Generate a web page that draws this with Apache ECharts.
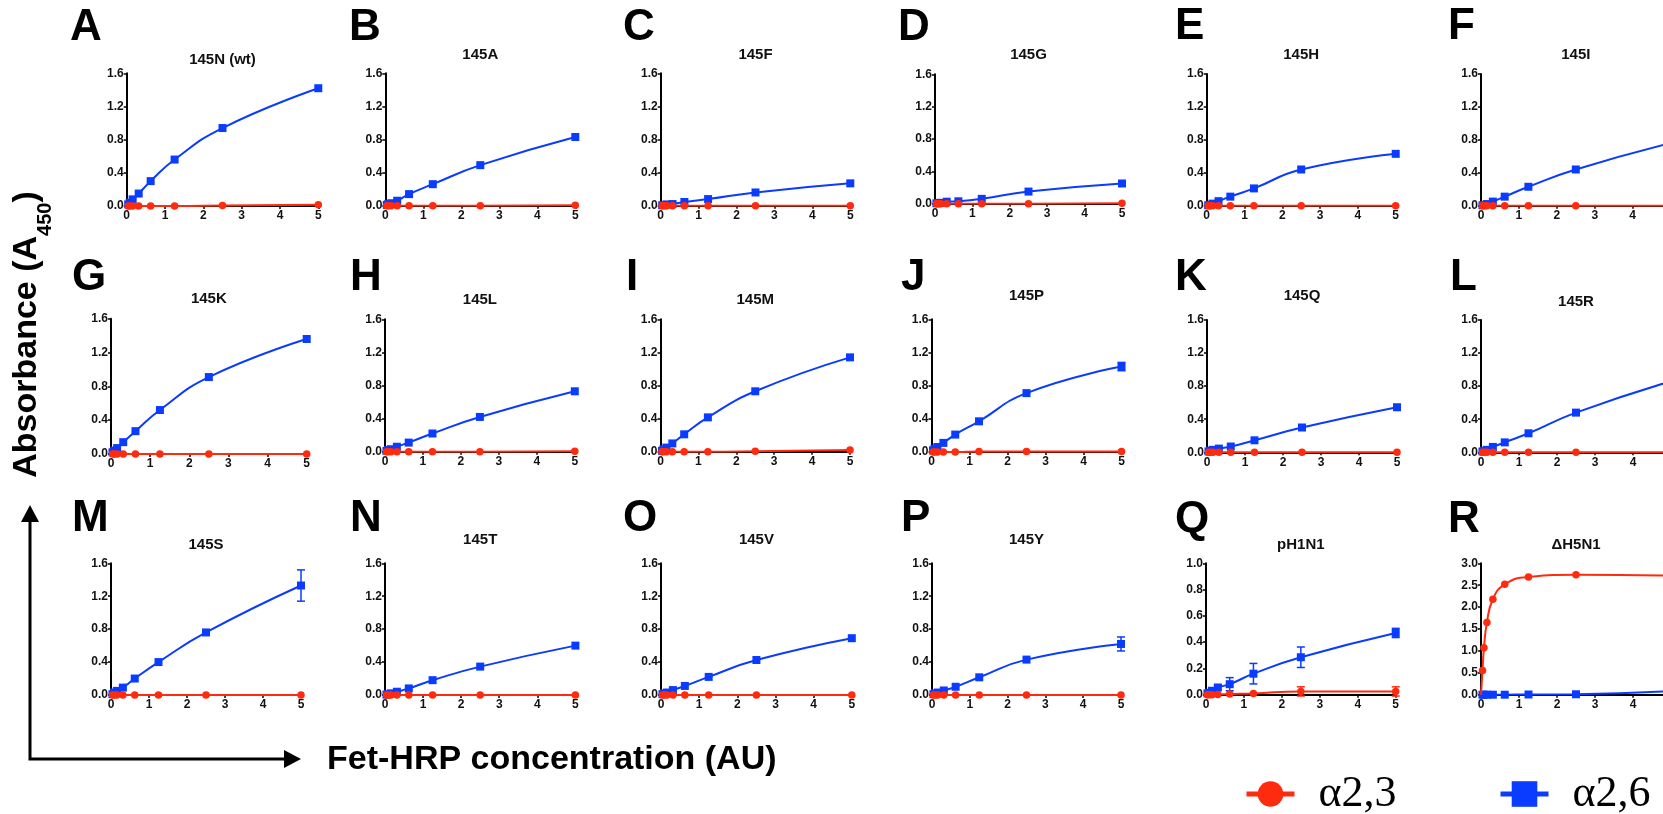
<!DOCTYPE html>
<html><head><meta charset="utf-8">
<script src="https://cdn.jsdelivr.net/npm/echarts@6/dist/echarts.min.js"></script>
<style>html,body{margin:0;padding:0;background:#fff;overflow:hidden}#c{width:1663px;height:814px}</style>
</head><body><div id="c"></div>
<script>
// ---- data ----
const conc = [0.039, 0.078, 0.156, 0.3125, 0.625, 1.25, 2.5, 5];
const panelLetters = ['A','B','C','D','E','F','G','H','I','J','K','L','M','N','O','P','Q','R'];
const panelTitles = ['145N (wt)','145A','145F','145G','145H','145I','145K','145L','145M','145P','145Q','145R','145S','145T','145V','145Y','pH1N1','\u0394H5N1'];
const yMaxes = [1.6,1.6,1.6,1.6,1.6,1.6,1.6,1.6,1.6,1.6,1.6,1.6,1.6,1.6,1.6,1.6,1.0,3.0];
const ySteps = [0.4,0.4,0.4,0.4,0.4,0.4,0.4,0.4,0.4,0.4,0.4,0.4,0.4,0.4,0.4,0.4,0.2,0.5];
const xTicks = [0, 1, 2, 3, 4, 5];

// alpha2,6 (blue)
const a26_145N = [0.02, 0.04, 0.08, 0.15, 0.30, 0.56, 0.94, 1.42];
const a26_145A = [0.01, 0.02, 0.03, 0.06, 0.14, 0.26, 0.49, 0.83];
const a26_145F = [0.005, 0.01, 0.015, 0.02, 0.045, 0.08, 0.16, 0.27];
const a26_145G = [0.005, 0.01, 0.01, 0.025, 0.03, 0.06, 0.15, 0.25];
const a26_145H = [0.005, 0.01, 0.025, 0.055, 0.11, 0.21, 0.44, 0.63];
const a26_145I = [0.005, 0.01, 0.02, 0.05, 0.11, 0.23, 0.44, 0.76];
const a26_145K = [0.02, 0.04, 0.07, 0.14, 0.27, 0.52, 0.91, 1.36];
const a26_145L = [0.01, 0.02, 0.03, 0.06, 0.11, 0.22, 0.42, 0.73];
const a26_145M = [0.01, 0.03, 0.05, 0.10, 0.21, 0.415, 0.73, 1.14];
const a26_145P = [0.02, 0.04, 0.06, 0.11, 0.21, 0.37, 0.71, 1.03];
const a26_145Q = [0.01, 0.02, 0.03, 0.045, 0.07, 0.145, 0.30, 0.545];
const a26_145R = [0.01, 0.02, 0.03, 0.065, 0.12, 0.23, 0.48, 0.86];
const a26_145S = [0.01, 0.03, 0.05, 0.09, 0.20, 0.40, 0.76, 1.33];
const a26_145T = [0.005, 0.01, 0.02, 0.04, 0.08, 0.18, 0.345, 0.60];
const a26_145V = [0.01, 0.02, 0.03, 0.06, 0.11, 0.22, 0.425, 0.69];
const a26_145Y = [0.01, 0.02, 0.03, 0.055, 0.10, 0.215, 0.43, 0.62];
const a26_pH1N1 = [0.01, 0.015, 0.03, 0.055, 0.08, 0.16, 0.285, 0.47];
const a26_H5N1 = [0, 0, 0, 0, 0, 0.005, 0.01, 0.08];

// alpha2,3 (red)
const a23_145N = [0, 0, 0, 0, 0, 0, 0.005, 0.015];
const a23_145A = [0, 0, 0, 0, 0, 0, 0, 0.005];
const a23_145F = [0, 0, 0, 0, 0, 0, 0, 0];
const a23_145G = [0, 0, 0, 0, 0, 0, 0, 0.005];
const a23_145H = [0, 0, 0, 0, 0, 0, 0, 0];
const a23_145I = [0, 0, 0, 0, 0, 0, 0, 0];
const a23_145K = [0, 0, 0, 0, 0, 0, 0, 0];
const a23_145L = [0, 0, 0, 0, 0, 0, 0, 0.005];
const a23_145M = [0, 0, 0, 0, 0, 0, 0.005, 0.02];
const a23_145P = [0, 0, 0, 0, 0, 0.005, 0.005, 0.005];
const a23_145Q = [0, 0, 0, 0, 0, 0, 0, 0];
const a23_145R = [0, 0, 0, 0, 0, 0, 0, 0];
const a23_145S = [0, 0, 0, 0, 0, 0, 0, 0];
const a23_145T = [0, 0, 0, 0, 0, 0, 0, 0];
const a23_145V = [0, 0, 0, 0, 0, 0, 0, 0];
const a23_145Y = [0, 0, 0, 0, 0, 0, 0, 0];
const a23_pH1N1 = [0, 0, 0, 0.002, 0.005, 0.01, 0.025, 0.025];
const a23_H5N1 = [0.55, 1.07, 1.65, 2.18, 2.52, 2.69, 2.74, 2.72];

// error bars (+/-)
const err26_145P = [0, 0, 0, 0, 0, 0, 0, 0.05];
const err26_145S = [0, 0, 0, 0, 0, 0, 0, 0.19];
const err26_145Y = [0, 0, 0, 0, 0, 0, 0, 0.085];
const err26_pH1N1 = [0, 0.005, 0.01, 0.02, 0.05, 0.078, 0.078, 0.035];
const err23_pH1N1 = [0, 0, 0, 0, 0, 0, 0.035, 0.035];

const blueSets = [a26_145N,a26_145A,a26_145F,a26_145G,a26_145H,a26_145I,a26_145K,a26_145L,a26_145M,a26_145P,a26_145Q,a26_145R,a26_145S,a26_145T,a26_145V,a26_145Y,a26_pH1N1,a26_H5N1];
const redSets = [a23_145N,a23_145A,a23_145F,a23_145G,a23_145H,a23_145I,a23_145K,a23_145L,a23_145M,a23_145P,a23_145Q,a23_145R,a23_145S,a23_145T,a23_145V,a23_145Y,a23_pH1N1,a23_H5N1];
const blueErr = {9: err26_145P, 12: err26_145S, 15: err26_145Y, 16: err26_pH1N1};
const redErr = {16: err23_pH1N1};

// ---- layout (pixels) ----
const gridBoxes = [
  [126.7,73.3,191.6,132.7],[385.3,73.3,190,132.4],[660.7,73.3,189.6,132.4],[935,74.3,187,129.4],[1206.7,74,189,131.7],[1481,74,189.6,131.7],
  [111,318.7,195.7,135.3],[385,319.3,189.8,132.4],[660.5,319.3,189.5,132.4],[931.5,319.3,190,132.7],[1207,320,190,132.3],[1481,320,190,132.3],
  [111,563.3,190,131.7],[385,563.3,190.4,131.7],[661,563.3,190.8,131.7],[932,563.3,189,131.7],[1206,563.3,189.7,131.4],[1481,563.3,190,131.4]
];
const letterPos = [
  [70,12],[349,12],[623,12],[898,12],[1175,11],[1448,11],
  [72,262],[350,262],[626,262],[901,262],[1175,262],[1450,262],
  [72,503],[350,503],[623,503],[901,503],[1175,504],[1448,504]
];
const titleY = [60,55,55,55,55,55, 299,300,300,296,296,302, 545,540,540,540,545,545];

const RED = '#ff2b0f', BLUE = '#0a3cff';
const FONT = '"Liberation Sans", Arial, sans-serif';

const grids = [], xAxes = [], yAxes = [], series = [], graphics = [];

function errSeries(i, vals, errs, color) {
  return {
    type: 'custom', xAxisIndex: i, yAxisIndex: i, z: 3, silent: true,
    data: conc.map((x, k) => [x, vals[k], errs[k]]),
    encode: {x: 0, y: 1},
    renderItem: function (params, api) {
      const x = api.value(0), y = api.value(1), e = api.value(2);
      if (!e) return null;
      const t = api.coord([x, y + e]), b = api.coord([x, y - e]);
      const hw = 4, st = {stroke: color, lineWidth: 1.5};
      return {type: 'group', children: [
        {type: 'line', shape: {x1: t[0], y1: t[1], x2: b[0], y2: b[1]}, style: st},
        {type: 'line', shape: {x1: t[0]-hw, y1: t[1], x2: t[0]+hw, y2: t[1]}, style: st},
        {type: 'line', shape: {x1: b[0]-hw, y1: b[1], x2: b[0]+hw, y2: b[1]}, style: st}
      ]};
    }
  };
}

function curveData(vals) {
  return [{value: [0, 0], symbol: 'none'}].concat(conc.map((x, k) => [x, vals[k]]));
}

panelLetters.forEach((letter, i) => {
  const g = gridBoxes[i];
  grids.push({left: g[0], top: g[1], width: g[2], height: g[3], containLabel: false, outerBoundsMode: 'none'});
  xAxes.push({
    gridIndex: i, type: 'value', min: 0, max: 5, interval: 1,
    axisLine: {show: true, onZero: false, lineStyle: {color: '#000', width: 2}},
    axisTick: {show: true, length: 3, lineStyle: {color: '#000', width: 1.5}},
    axisLabel: {color: '#111', fontSize: 12, fontWeight: 'bold', fontFamily: FONT, margin: 4,
      formatter: v => (xTicks.indexOf(v) >= 0 ? String(v) : '')},
    splitLine: {show: false}
  });
  yAxes.push({
    gridIndex: i, type: 'value', min: 0, max: yMaxes[i], interval: ySteps[i],
    axisLine: {show: true, onZero: false, lineStyle: {color: '#000', width: 2}},
    axisTick: {show: true, length: 3, lineStyle: {color: '#000', width: 1.5}},
    axisLabel: {color: '#111', fontSize: 12, fontWeight: 'bold', fontFamily: FONT, margin: 3,
      formatter: v => v.toFixed(1)},
    splitLine: {show: false}
  });
  series.push({
    name: '\u03b12,6', type: 'line', xAxisIndex: i, yAxisIndex: i,
    data: curveData(blueSets[i]), smooth: 0.5,
    symbol: 'rect', symbolSize: 8, showAllSymbol: true,
    lineStyle: {color: BLUE, width: 2}, itemStyle: {color: BLUE}, z: 2
  });
  series.push({
    name: '\u03b12,3', type: 'line', xAxisIndex: i, yAxisIndex: i,
    data: curveData(redSets[i]), smooth: 0.5,
    symbol: 'circle', symbolSize: 7.5, showAllSymbol: true,
    lineStyle: {color: RED, width: 2}, itemStyle: {color: RED}, z: 4
  });
  if (blueErr[i]) series.push(errSeries(i, blueSets[i], blueErr[i], BLUE));
  if (redErr[i]) series.push(errSeries(i, redSets[i], redErr[i], RED));

  graphics.push({type: 'text', x: letterPos[i][0], y: letterPos[i][1] + 16.3, silent: true,
    style: {text: letter, fill: '#000', font: 'bold 44px ' + FONT, align: 'left', verticalAlign: 'middle'}});
  graphics.push({type: 'text', x: g[0] + g[2] / 2, y: titleY[i], silent: true,
    style: {text: panelTitles[i], fill: '#111', font: 'bold 15px ' + FONT, align: 'center', verticalAlign: 'middle'}});
});

// axis titles and arrows
graphics.push({type: 'text', x: 27, y: 334.5, rotation: Math.PI / 2, silent: true,
  style: {text: '{a|Absorbance (A}{s|450}{a|)}', align: 'center', verticalAlign: 'middle',
    rich: {a: {font: 'bold 34px ' + FONT, fill: '#000', lineHeight: 56},
           s: {font: 'bold 20px ' + FONT, fill: '#000', lineHeight: 20, verticalAlign: 'bottom'}}}});
graphics.push({type: 'text', x: 327, y: 760, silent: true,
  style: {text: 'Fet-HRP concentration (AU)', fill: '#000', font: 'bold 34px ' + FONT, align: 'left', verticalAlign: 'middle'}});
graphics.push({type: 'polyline', silent: true, shape: {points: [[30, 520], [30, 759], [286, 759]]},
  style: {stroke: '#000', lineWidth: 3, fill: null}});
graphics.push({type: 'polygon', silent: true, shape: {points: [[30, 505], [21, 522], [39, 522]]}, style: {fill: '#000'}});
graphics.push({type: 'polygon', silent: true, shape: {points: [[301, 759], [284, 750], [284, 768]]}, style: {fill: '#000'}});

const legendBase = {
  orient: 'horizontal', top: 767, itemWidth: 48, itemHeight: 32, selectedMode: false,
  lineStyle: {width: 5},
  textStyle: {fontFamily: '"Liberation Serif", "Times New Roman", serif', fontSize: 44, color: '#000', padding: [0, 0, 0, 19]}
};

const option = {
  animation: false,
  backgroundColor: '#fff',
  grid: grids, xAxis: xAxes, yAxis: yAxes, series: series,
  legend: [
    Object.assign({}, legendBase, {left: 1239, data: ['\u03b12,3']}),
    Object.assign({}, legendBase, {left: 1493, data: ['\u03b12,6']})
  ],
  graphic: graphics
};
const chart = echarts.init(document.getElementById('c'));
chart.setOption(option);
</script></body></html>
